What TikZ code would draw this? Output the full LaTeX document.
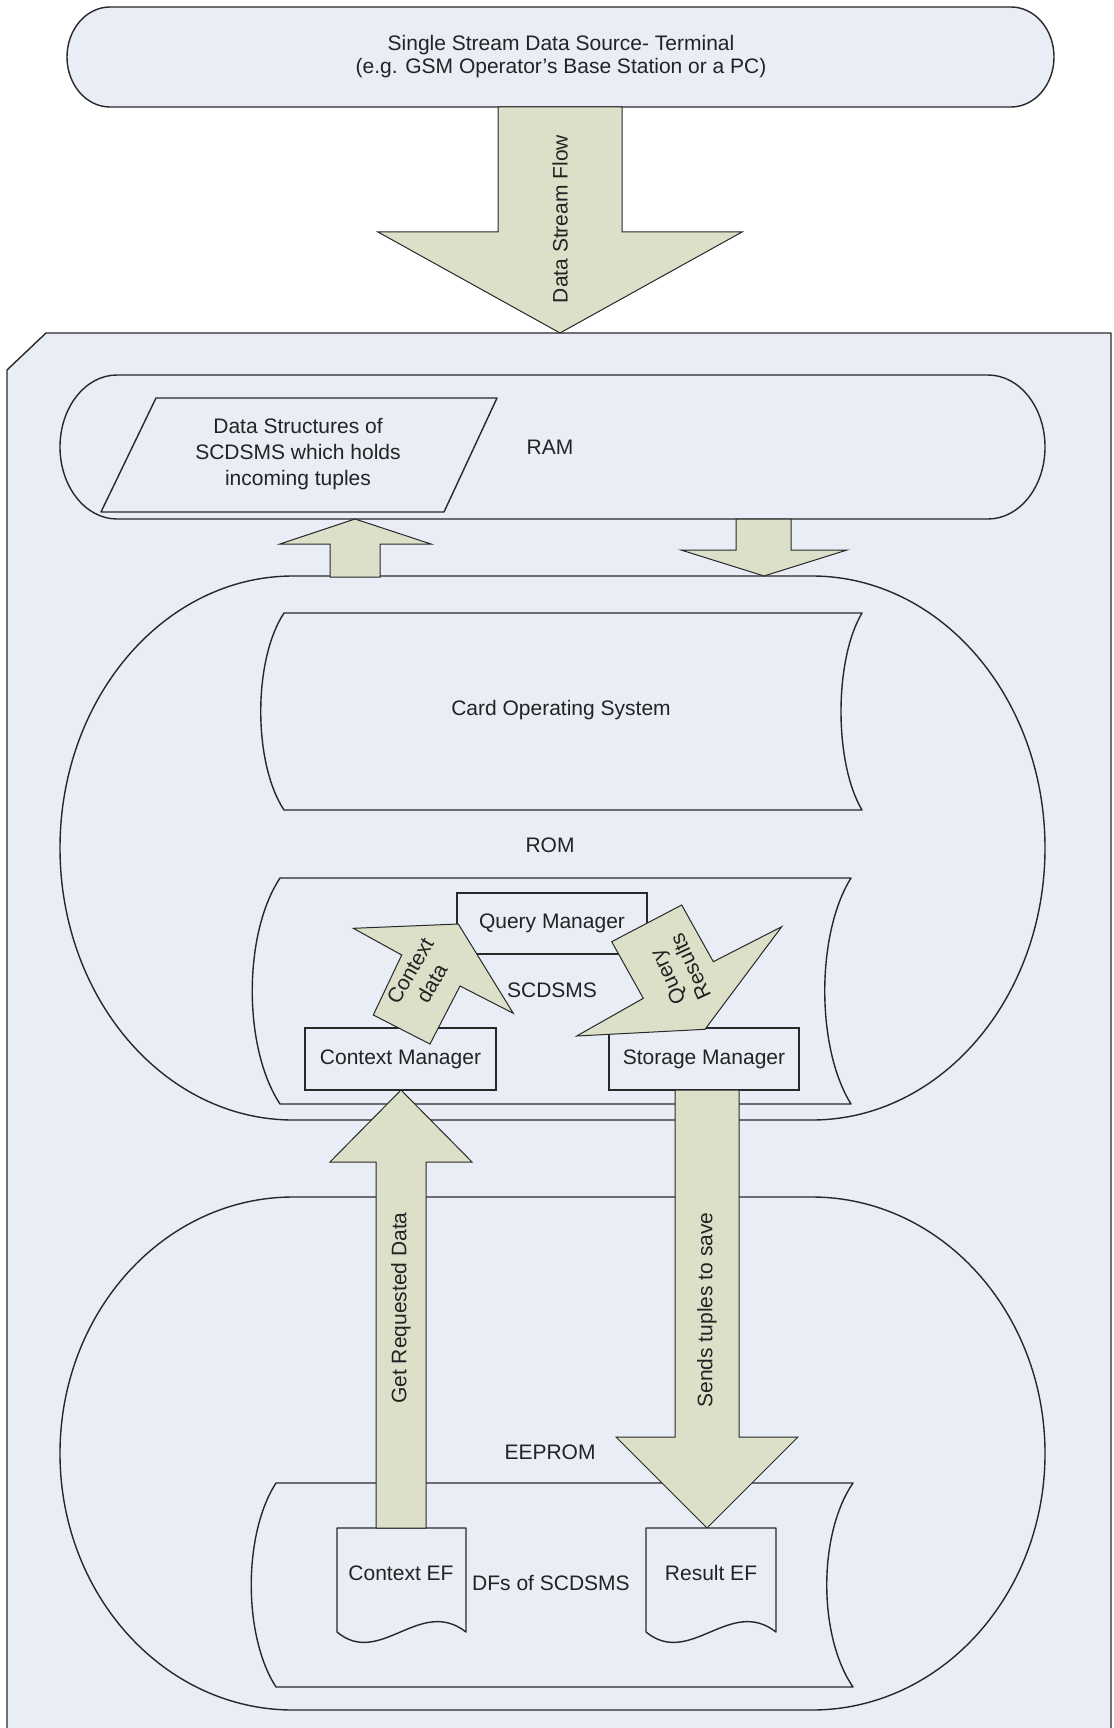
\documentclass[tikz,border=0pt]{standalone}
\usepackage{fontspec}
\setmainfont{Liberation Sans}
\definecolor{bg}{RGB}{232,237,246}
\definecolor{arr}{RGB}{220,224,201}
\definecolor{ln}{RGB}{40,40,40}
\definecolor{tx}{RGB}{35,35,35}
\begin{document}
\begin{tikzpicture}[x=0.5pt,y=0.5pt,
  shp/.style={draw=ln, line width=0.7pt, line join=round},
  blk/.style={draw=ln, line width=0.5pt, fill=arr, line join=miter},
  lbl/.style={font=\fontsize{10.5}{11.5}\selectfont, text=tx, inner sep=0pt, align=center},
  box/.style={draw=ln, line width=0.7pt, fill=bg, inner sep=0pt, font=\fontsize{10.5}{11.5}\selectfont, text=tx}]
\useasboundingbox (0,0) rectangle (1113,-1728);
\clip (0,0) rectangle (1113,-1728);
\fill[white] (0,0) rectangle (1113,-1728);

% source terminal
\draw[shp, fill=bg] (110,-7) -- (1011,-7) arc[start angle=90,end angle=-90,x radius=43,y radius=50]
  -- (110,-107) arc[start angle=270,end angle=90,x radius=43,y radius=50] -- cycle;
\node[lbl] (src) at (561,-57) {Single Stream Data Source- Terminal\\(e.g. GSM Operator’s Base Station or a PC)};

% card (big box)
\draw[shp, fill=bg] (46,-333) -- (1111,-333) -- (1111,-1760) -- (7,-1760) -- (7,-370) -- cycle;

% Data stream flow arrow
\draw[blk] (498,-107) -- (622,-107) -- (622,-232) -- (742,-232) -- (560,-333) -- (378,-232) -- (498,-232) -- cycle;
\node[lbl, rotate=90] (dsf) at (560,-219) {Data Stream Flow};

% RAM
\draw[shp] (117,-375) -- (988,-375) arc[start angle=90,end angle=-90,x radius=57,y radius=72]
  -- (117,-519) arc[start angle=270,end angle=90,x radius=57,y radius=72] -- cycle;
\draw[shp] (156,-398) -- (497,-398) -- (444,-512) -- (101,-512) -- cycle;
\node[lbl, font=\fontsize{10.5}{13}\selectfont] (ds) at (298,-454) {Data Structures of\\SCDSMS which holds\\incoming tuples};
\node[lbl] (ram) at (550,-447) {RAM};

% ROM
\draw[shp] (293,-576) -- (812,-576) arc[start angle=90,end angle=-90,x radius=233,y radius=272]
  -- (293,-1120) arc[start angle=270,end angle=90,x radius=233,y radius=272] -- cycle;
\draw[shp] (284,-613) -- (862,-613) .. controls (834,-660) and (834,-763) .. (862,-810)
  -- (284,-810) .. controls (253,-763) and (253,-660) .. (284,-613) -- cycle;
\node[lbl] (cos) at (561,-710) {Card Operating System};
\node[lbl] (rom) at (550,-845) {ROM};
\draw[shp] (280,-878) -- (851,-878) .. controls (816,-934) and (816,-1048) .. (851,-1104)
  -- (280,-1104) .. controls (243,-1048) and (243,-934) .. (280,-878) -- cycle;
\node[lbl] (scd) at (552,-990) {SCDSMS};
\node[box, minimum width=95pt, minimum height=30.5pt] (qm) at (552,-923.5) {Query Manager};
\node[box, minimum width=95.5pt, minimum height=31pt] (cm) at (400.5,-1059) {Context Manager};
\node[box, minimum width=95pt, minimum height=31pt] (sm) at (704,-1059) {Storage Manager};

% arrows between RAM and ROM
\draw[blk] (330,-577) -- (330,-544) -- (280,-544) -- (355,-519) -- (431,-544) -- (380,-544) -- (380,-577) -- cycle;
\draw[blk] (736,-519) -- (791,-519) -- (791,-550) -- (847,-550) -- (764,-576) -- (681,-550) -- (736,-550) -- cycle;

% Context data arrow
\draw[blk] (353.3,-928.3) -- (458.3,-924) -- (513.3,-1013.3) -- (460,-986) -- (430,-1044) -- (373.3,-1015) -- (401.7,-955) -- cycle;
\node[lbl, rotate=60, font=\fontsize{10.5}{12.5}\selectfont] (cd) at (421,-977) {Context\\data};
% Query results arrow
\draw[blk] (611.7,-941.7) -- (681.7,-905) -- (713.3,-961.7) -- (781.7,-926.7) -- (705,-1029.3) -- (576.7,-1036) -- (643.3,-998.3) -- cycle;
\node[lbl, rotate=115, font=\fontsize{10.5}{12.5}\selectfont] (qr) at (679,-972) {Query\\Results};

% EEPROM
\draw[shp] (293,-1197) -- (812,-1197) arc[start angle=90,end angle=-90,x radius=233,y radius=256.5]
  -- (293,-1710) arc[start angle=270,end angle=90,x radius=233,y radius=256.5] -- cycle;
\node[lbl] (eep) at (550,-1452) {EEPROM};
\draw[shp] (276,-1483) -- (853,-1483) .. controls (818,-1534) and (818,-1636) .. (853,-1687)
  -- (276,-1687) .. controls (243,-1636) and (243,-1534) .. (276,-1483) -- cycle;
\node[lbl] (dfs) at (551,-1583) {DFs of SCDSMS};

% documents
\draw[shp] (337,-1632) -- (337,-1528) -- (466,-1528) -- (466,-1632)
  .. controls (420,-1596) and (380,-1668) .. (337,-1632) -- cycle;
\node[lbl] (cef) at (401,-1573) {Context EF};
\draw[shp] (646,-1632) -- (646,-1528) -- (776,-1528) -- (776,-1632)
  .. controls (730,-1596) and (690,-1668) .. (646,-1632) -- cycle;
\node[lbl] (ref) at (711,-1573) {Result EF};

% Get requested data
\draw[blk] (376,-1528) -- (376,-1162) -- (330,-1162) -- (401,-1090) -- (472,-1162) -- (426,-1162) -- (426,-1528) -- cycle;
\node[lbl, rotate=90] (grd) at (401,-1308) {Get Requested Data};
% Sends tuples to save
\draw[blk] (675,-1090) -- (739,-1090) -- (739,-1437) -- (798,-1437) -- (707,-1528) -- (616,-1437) -- (675,-1437) -- cycle;
\node[lbl, rotate=90] (sts) at (707,-1310) {Sends tuples to save};
\end{tikzpicture}
\end{document}
